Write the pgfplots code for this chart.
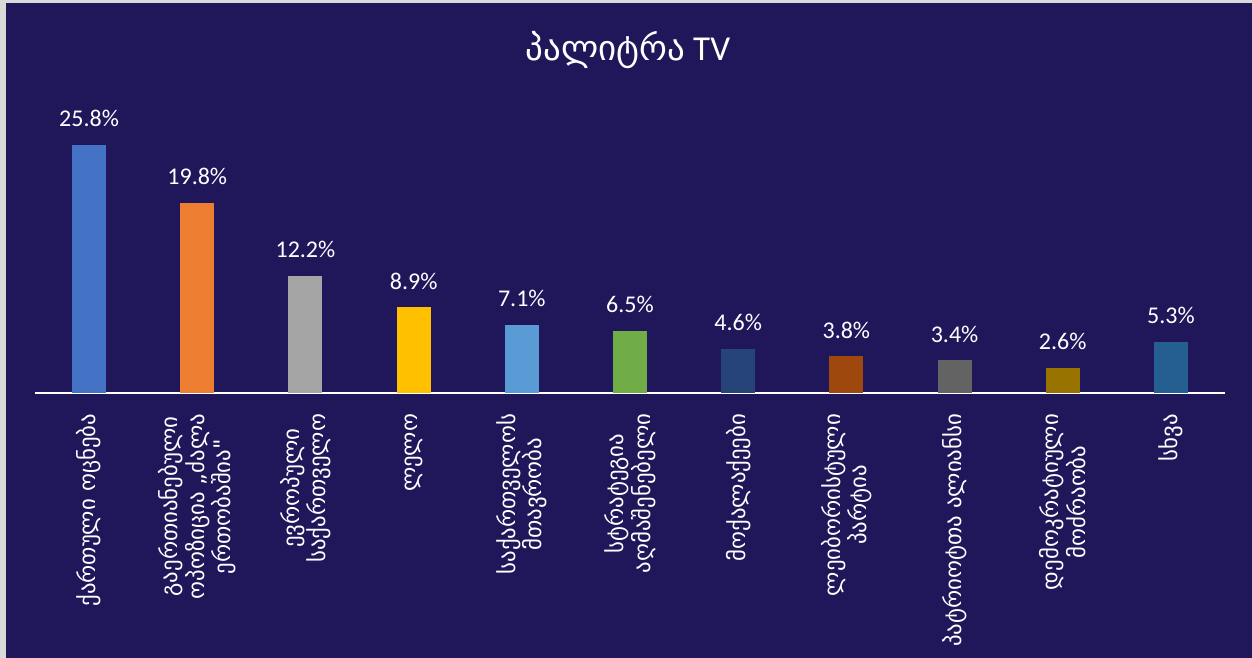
\documentclass[border=0pt]{standalone}
\usepackage{fontspec}
\setmainfont{Carlito}
\newfontfamily\geo{DejaVu Sans}
\usepackage{pgfplots}
\pgfplotsset{compat=1.18}

\definecolor{bg}{RGB}{32,22,90}
\definecolor{frame}{RGB}{217,217,217}
\definecolor{c1}{HTML}{4472C4}
\definecolor{c2}{HTML}{ED7D31}
\definecolor{c3}{HTML}{A5A5A5}
\definecolor{c4}{HTML}{FFC000}
\definecolor{c5}{HTML}{5B9BD5}
\definecolor{c6}{HTML}{70AD47}
\definecolor{c7}{HTML}{264478}
\definecolor{c8}{HTML}{9E480E}
\definecolor{c9}{HTML}{636363}
\definecolor{c10}{HTML}{997300}
\definecolor{c11}{HTML}{255E91}

\begin{document}
\begin{tikzpicture}
% background (1 px = 0.5pt, axis box origin at px (35,393))
\fill[frame] (-17.5pt,-132.5pt) rectangle (608.5pt,196.5pt);
\fill[bg] (-14.5pt,-132.5pt) rectangle (608.5pt,195pt);

\begin{axis}[
  at={(0,0)}, anchor=south west,
  scale only axis,
  width=595pt, height=125pt,
  xmin=-0.5, xmax=10.5, ymin=0, ymax=26,
  axis x line=bottom, axis y line=none,
  axis line style={-, white, line width=0.8pt},
  xtick={0,...,10},
  xticklabels={
    {ქართული ოცნება},
    {გაერთიანებული\\ოპოზიცია „ძალა\\ერთობაშია"},
    {ევროპული\\საქართველო},
    {ლელო},
    {საქართველოს\\მთავრობა},
    {სტრატეგია\\აღმაშენებელი},
    {მოქალაქეები},
    {ლეიბორისტული\\პარტია},
    {პატრიოტთა ალიანსი},
    {დემოკრატიული\\მოძრაობა},
    {სხვა}},
  xtick style={draw=none},
  ytick=\empty,
  xticklabel style={rotate=90, anchor=east, align=center, text=white,
    inner sep=0pt, font=\geo\fontsize{11.4}{12}\selectfont},
  xticklabel shift=6pt,
  ybar, bar width=17pt, bar shift=0pt,
  nodes near coords={\pgfmathprintnumber{\pgfplotspointmeta}\%},
  /pgf/number format/.cd, fixed, fixed zerofill, precision=1, assume math mode=true,
  /pgfplots/.cd,
  every node near coord/.append style={text=white, font=\fontsize{12}{14}\selectfont, yshift=5.5pt},
  clip=false,
]
\addplot[fill=c1, draw=none] coordinates {(0,25.8)};
\addplot[fill=c2, draw=none] coordinates {(1,19.8)};
\addplot[fill=c3, draw=none] coordinates {(2,12.2)};
\addplot[fill=c4, draw=none] coordinates {(3,8.9)};
\addplot[fill=c5, draw=none] coordinates {(4,7.1)};
\addplot[fill=c6, draw=none] coordinates {(5,6.5)};
\addplot[fill=c7, draw=none] coordinates {(6,4.6)};
\addplot[fill=c8, draw=none] coordinates {(7,3.8)};
\addplot[fill=c9, draw=none] coordinates {(8,3.4)};
\addplot[fill=c10, draw=none] coordinates {(9,2.6)};
\addplot[fill=c11, draw=none] coordinates {(10,5.3)};
\end{axis}

\node[text=white, font=\fontsize{17.5}{20}\selectfont] at (296.5pt,171.5pt) {{\geo პალიტრა} TV};

\pgfresetboundingbox
\path (-17.5pt,-132.5pt) rectangle (608.5pt,196.5pt);
\end{tikzpicture}
\end{document}
